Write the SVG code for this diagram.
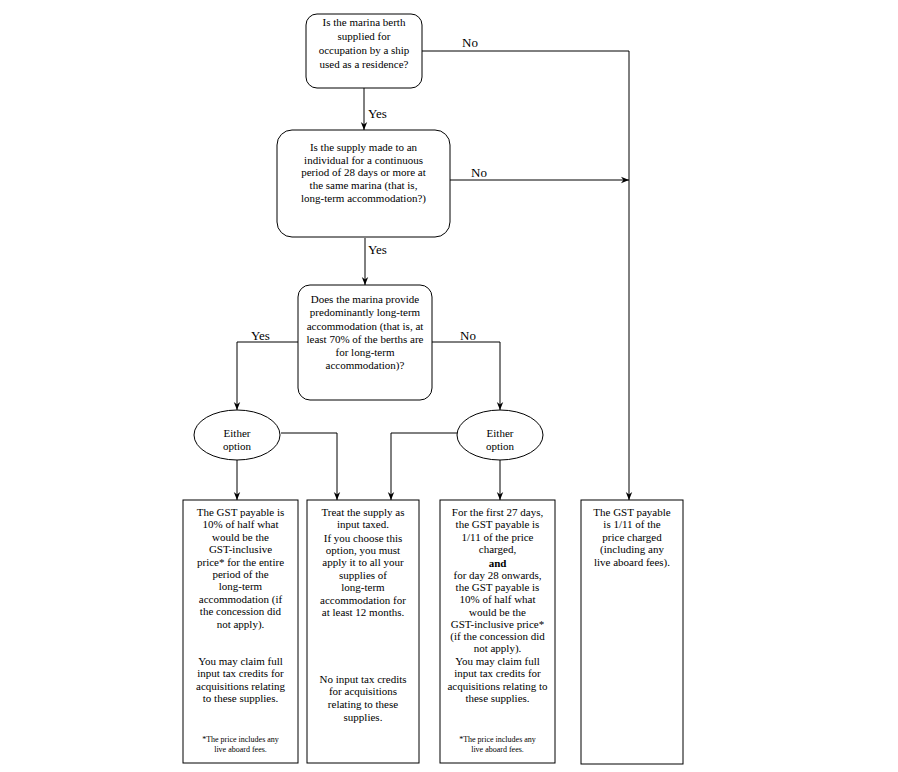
<svg xmlns="http://www.w3.org/2000/svg" width="898" height="772" viewBox="0 0 898 772" font-family="'Liberation Serif', 'DejaVu Serif', serif">
<style>
.shape{fill:#fff;stroke:#000;stroke-width:1}
.t{font-size:11px;fill:#000;text-anchor:middle}
.lbl{font-size:13px;fill:#000}
.fn{font-size:8px;fill:#000;text-anchor:middle}
.b{font-weight:bold}
.c{fill:none;stroke:#000;stroke-width:1}
</style>
<defs>
<marker id="ah" viewBox="0 0 10 10" refX="10" refY="5" markerWidth="8" markerHeight="8" markerUnits="userSpaceOnUse" orient="auto">
<path d="M0,1 L10,5 L0,9 L3,5 Z" fill="#000"/>
</marker>
</defs>
<rect width="898" height="772" fill="#fff"/>
<g id="connectors">
<path class="c" d="M422,51 H629 V500" marker-end="url(#ah)"/>
<path class="c" d="M450,180 H629" marker-end="url(#ah)"/>
<path class="c" d="M364,88 V130" marker-end="url(#ah)"/>
<path class="c" d="M365,238 V285" marker-end="url(#ah)"/>
<path class="c" d="M298,342 H237 V410" marker-end="url(#ah)"/>
<path class="c" d="M432,342 H500 V410" marker-end="url(#ah)"/>
<path class="c" d="M237,460 V500" marker-end="url(#ah)"/>
<path class="c" d="M281,433 H337 V500" marker-end="url(#ah)"/>
<path class="c" d="M457,433 H391 V500" marker-end="url(#ah)"/>
<path class="c" d="M500,460 V500" marker-end="url(#ah)"/>
<text class="lbl" x="462" y="47">No</text>
<text class="lbl" x="368" y="118">Yes</text>
<text class="lbl" x="471" y="177">No</text>
<text class="lbl" x="368" y="254">Yes</text>
<text class="lbl" x="251" y="340">Yes</text>
<text class="lbl" x="460" y="340">No</text>
</g>
<g id="q1">
<rect class="shape" x="306" y="14" width="116" height="74" rx="11"/>
<text class="t" x="364" y="26">Is the marina berth</text>
<text class="t" x="364" y="40">supplied for</text>
<text class="t" x="364" y="54">occupation by a ship</text>
<text class="t" x="364" y="68">used as a residence?</text>
</g>
<g id="q2">
<rect class="shape" x="277" y="130" width="173" height="107" rx="15"/>
<text class="t" x="363.5" y="151">Is the supply made to an</text>
<text class="t" x="363.5" y="164">individual for a continuous</text>
<text class="t" x="363.5" y="176">period of 28 days or more at</text>
<text class="t" x="363.5" y="189">the same marina (that is,</text>
<text class="t" x="363.5" y="202">long-term accommodation?)</text>
</g>
<g id="q3">
<rect class="shape" x="298" y="285" width="134" height="115" rx="12"/>
<text class="t" x="365" y="303">Does the marina provide</text>
<text class="t" x="365" y="316">predominantly long-term</text>
<text class="t" x="365" y="330">accommodation (that is, at</text>
<text class="t" x="365" y="343">least 70% of the berths are</text>
<text class="t" x="365" y="356">for long-term</text>
<text class="t" x="365" y="369">accommodation)?</text>
</g>
<g id="either1">
<ellipse class="shape" cx="237" cy="435" rx="43" ry="25"/>
<text class="t" x="237" y="437">Either</text>
<text class="t" x="237" y="450">option</text>
</g>
<g id="either2">
<ellipse class="shape" cx="500" cy="435" rx="43" ry="25"/>
<text class="t" x="500" y="437">Either</text>
<text class="t" x="500" y="450">option</text>
</g>
<g id="box1">
<rect class="shape" x="183" y="500" width="115" height="263"/>
<text class="t" x="240.5" y="516">The GST payable is</text>
<text class="t" x="240.5" y="528">10% of half what</text>
<text class="t" x="240.5" y="541">would be the</text>
<text class="t" x="240.5" y="553">GST-inclusive</text>
<text class="t" x="240.5" y="566">price* for the entire</text>
<text class="t" x="240.5" y="578">period of the</text>
<text class="t" x="240.5" y="590">long-term</text>
<text class="t" x="240.5" y="603">accommodation (if</text>
<text class="t" x="240.5" y="615">the concession did</text>
<text class="t" x="240.5" y="628">not apply).</text>
<text class="t" x="240.5" y="665">You may claim full</text>
<text class="t" x="240.5" y="677">input tax credits for</text>
<text class="t" x="240.5" y="690">acquisitions relating</text>
<text class="t" x="240.5" y="702">to these supplies.</text>
<text class="fn" x="240.5" y="742">*The price includes any</text>
<text class="fn" x="240.5" y="752">live aboard fees.</text>
</g>
<g id="box2">
<rect class="shape" x="307" y="500" width="112" height="263"/>
<text class="t" x="363" y="516">Treat the supply as</text>
<text class="t" x="363" y="528">input taxed.</text>
<text class="t" x="363" y="542">If you choose this</text>
<text class="t" x="363" y="554">option, you must</text>
<text class="t" x="363" y="566">apply it to all your</text>
<text class="t" x="363" y="579">supplies of</text>
<text class="t" x="363" y="591">long-term</text>
<text class="t" x="363" y="604">accommodation for</text>
<text class="t" x="363" y="616">at least 12 months.</text>
<text class="t" x="363" y="683">No input tax credits</text>
<text class="t" x="363" y="695">for acquisitions</text>
<text class="t" x="363" y="708">relating to these</text>
<text class="t" x="363" y="721">supplies.</text>
</g>
<g id="box3">
<rect class="shape" x="440" y="500" width="115" height="263"/>
<text class="t" x="497.5" y="516">For the first 27 days,</text>
<text class="t" x="497.5" y="528">the GST payable is</text>
<text class="t" x="497.5" y="541">1/11 of the price</text>
<text class="t" x="497.5" y="553">charged,</text>
<text class="t b" x="497.5" y="567">and</text>
<text class="t" x="497.5" y="579">for day 28 onwards,</text>
<text class="t" x="497.5" y="591">the GST payable is</text>
<text class="t" x="497.5" y="603">10% of half what</text>
<text class="t" x="497.5" y="616">would be the</text>
<text class="t" x="497.5" y="628">GST-inclusive price*</text>
<text class="t" x="497.5" y="640">(if the concession did</text>
<text class="t" x="497.5" y="652">not apply).</text>
<text class="t" x="497.5" y="665">You may claim full</text>
<text class="t" x="497.5" y="677">input tax credits for</text>
<text class="t" x="497.5" y="690">acquisitions relating to</text>
<text class="t" x="497.5" y="702">these supplies.</text>
<text class="fn" x="497.5" y="742">*The price includes any</text>
<text class="fn" x="497.5" y="752">live aboard fees.</text>
</g>
<g id="box4">
<rect class="shape" x="581" y="500" width="102" height="264"/>
<text class="t" x="632" y="516">The GST payable</text>
<text class="t" x="632" y="528">is 1/11 of the</text>
<text class="t" x="632" y="541">price charged</text>
<text class="t" x="632" y="553">(including any</text>
<text class="t" x="632" y="566">live aboard fees).</text>
</g>
</svg>
